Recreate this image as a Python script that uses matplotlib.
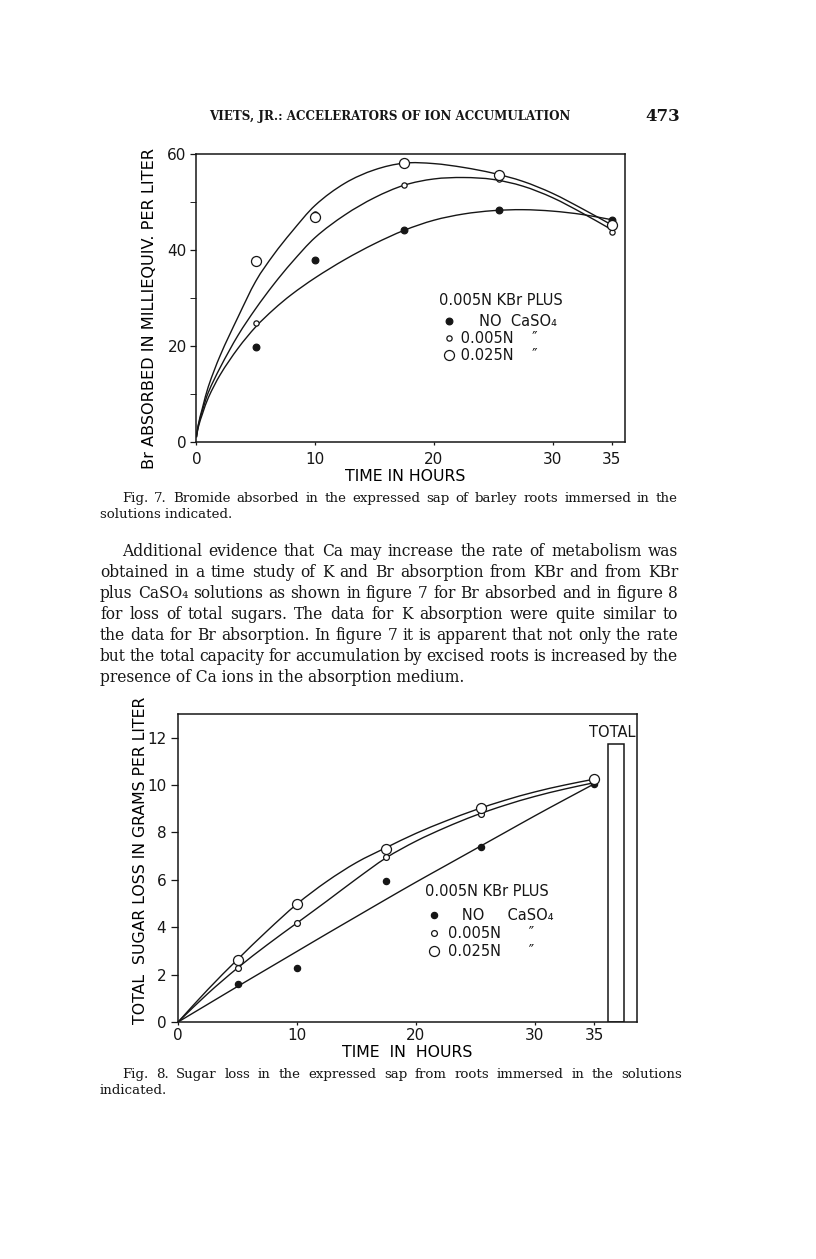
import matplotlib
matplotlib.use("Agg")
import matplotlib.pyplot as plt
from matplotlib.path import Path
from matplotlib.patches import PathPatch

W, H = 816, 1259

# ---- fig. 7: Br absorbed, milliequiv. per liter ----
hours = [5, 10, 17.5, 25.5, 35]
br_none = [19.7, 37.9, 44.2, 48.3, 46.3]
br_low = [24.7, 47.6, 53.6, 54.7, 43.8]
br_high = [37.7, 46.9, 58.2, 55.6, 45.2]

# hand drawn curves through the points
br_fit_t = [0, 0.15, 0.5, 1, 2, 3.5, 5, 6.5, 8, 10, 12.5, 15, 17.5, 20, 22.5, 25, 27.5, 30, 32.5, 35]
br_fit_none = [1, 3, 5.8, 9.2, 14, 19.5, 24.0, 27.6, 30.7, 34.2, 38.0, 41.3, 44.1, 46.2, 47.5, 48.2, 48.4, 48.1, 47.4, 46.3]
br_fit_low = [1, 3.3, 6.5, 10.3, 15.5, 22.2, 27.8, 32.8, 37.3, 42.6, 47.3, 50.9, 53.5, 54.8, 55.1, 54.7, 53.3, 50.9, 47.7, 44.2]
br_fit_high = [1, 3.5, 7, 11.5, 18, 26, 33.5, 39, 43.7, 49.3, 53.9, 56.7, 58.1, 58.0, 57.2, 56.0, 54.3, 51.8, 48.6, 45.2]

# ---- fig. 8: total sugar loss, grams per liter ----
sugar_none = [1.59, 2.27, 5.96, 7.4, 10.04]
sugar_low = [2.26, 4.16, 6.98, 8.8, 10.15]
sugar_high = [2.62, 4.98, 7.3, 9.02, 10.25]

sugar_fit_t = [0, 2.5, 5, 7.5, 10, 12.5, 15, 17.5, 20, 22.5, 25, 27.5, 30, 32.5, 35]
sugar_fit_none = [0, 0.75, 1.5, 2.24, 2.98, 3.72, 4.45, 5.18, 5.9, 6.6, 7.3, 8.0, 8.7, 9.38, 10.05]
sugar_fit_low = [0, 1.2, 2.28, 3.26, 4.18, 5.1, 6.04, 6.93, 7.63, 8.21, 8.72, 9.15, 9.52, 9.83, 10.1]
sugar_fit_high = [0, 1.37, 2.64, 3.85, 4.98, 5.93, 6.73, 7.36, 7.96, 8.48, 8.95, 9.36, 9.71, 10.0, 10.25]

total_label = ["TOTAL"]
total_sugar = [11.75]

x_ticks = [0, 10, 20, 30, 35]

header = "VIETS, JR.: ACCELERATORS OF ION ACCUMULATION"
page_no = "473"
cap7 = ["Fig. 7.  Bromide absorbed in the expressed sap of barley roots immersed in the",
        "solutions indicated."]
paragraph = [
    "Additional evidence that Ca may increase the rate of metabolism was",
    "obtained in a time study of K and Br absorption from KBr and from KBr",
    "plus CaSO\u2084 solutions as shown in figure 7 for Br absorbed and in figure 8",
    "for loss of total sugars.  The data for K absorption were quite similar to",
    "the data for Br absorption.  In figure 7 it is apparent that not only the rate",
    "but the total capacity for accumulation by excised roots is increased by the",
    "presence of Ca ions in the absorption medium.",
]
cap8 = ["Fig. 8.  Sugar loss in the expressed sap from roots immersed in the solutions",
        "indicated."]

ink = "#161616"
plt.rcParams["font.family"] = ["DejaVu Sans"]
plt.rcParams["text.color"] = ink

fig = plt.figure(figsize=(W / 100, H / 100), dpi=100)
fig.patch.set_facecolor("white")


def box(l, t, r, b):
    return [l / W, 1 - b / H, (r - l) / W, (b - t) / H]


def style(ax):
    for s in ax.spines.values():
        s.set_linewidth(1.1)
        s.set_color(ink)
    ax.tick_params(colors=ink, labelcolor=ink, direction="out", width=0.9)
    ax.set_facecolor("none")


def curve(ax, xs, ys):
    # draw the freehand curve as bezier segments through the read points
    n = len(xs)
    slopes = []
    for i in range(n):
        a, b = max(i - 1, 0), min(i + 1, n - 1)
        slopes.append((ys[b] - ys[a]) / (xs[b] - xs[a]))
    verts = [(xs[0], ys[0])]
    codes = [Path.MOVETO]
    for i in range(n - 1):
        h = (xs[i + 1] - xs[i]) / 3
        verts += [(xs[i] + h, ys[i] + slopes[i] * h),
                  (xs[i + 1] - h, ys[i + 1] - slopes[i + 1] * h),
                  (xs[i + 1], ys[i + 1])]
        codes += [Path.CURVE4] * 3
    ax.add_patch(PathPatch(Path(verts, codes), fill=False, edgecolor=ink, lw=1.0, zorder=2))


def series(ax, t, ys, fits, ft, sizes):
    kinds = [dict(marker="o", mfc=ink, mec=ink),
             dict(marker="o", mfc="white", mec=ink),
             dict(marker="o", mfc="white", mec=ink)]
    hs = []
    for y, f, k, ms in zip(ys, fits, kinds, sizes):
        curve(ax, ft, f)
        h, = ax.plot(t, y, ls="none", ms=ms, mew=0.9, zorder=3, **k)
        hs.append(h)
    return hs


# ---------------- fig. 7 ----------------
ax1 = fig.add_axes(box(196.4, 154, 625, 442))
style(ax1)
h1 = series(ax1, hours, [br_none, br_low, br_high],
            [br_fit_none, br_fit_low, br_fit_high], br_fit_t, [4.8, 3.8, 7.2])
ax1.set_xlim(0, 36.1)
ax1.set_ylim(0, 60)
ax1.set_xticks(x_ticks)
ax1.set_yticks([0, 20, 40, 60])
ax1.set_yticks([10, 30, 50], minor=True)
ax1.tick_params(axis="y", which="both", length=4, pad=3, labelsize=11)
ax1.tick_params(axis="x", length=2, pad=5, labelsize=11)
ax1.set_ylabel("Br ABSORBED IN MILLIEQUIV. PER LITER", fontsize=11.6)
ax1.yaxis.set_label_coords(-0.092, 0.462)
ax1.set_xlabel("TIME IN HOURS", fontsize=11.3)
ax1.xaxis.set_label_coords(0.487, -0.094)
ax1.text(0.566, 0.493, "0.005N KBr PLUS", transform=ax1.transAxes,
         fontsize=10.5, ha="left", va="center")
ax1.legend(h1, ["     NO  CaSO\u2084", " 0.005N    \u2033", " 0.025N    \u2033"],
           loc="upper left", bbox_to_anchor=(0.575, 0.443), frameon=False,
           fontsize=10.5, handlelength=0.8, handletextpad=0.1, labelspacing=0.12,
           borderpad=0, borderaxespad=0)

# ---------------- fig. 8 ----------------
ax2 = fig.add_axes(box(178.1, 714, 637, 1022))
style(ax2)
h2 = series(ax2, hours, [sugar_none, sugar_low, sugar_high],
            [sugar_fit_none, sugar_fit_low, sugar_fit_high], sugar_fit_t, [4.5, 4.2, 7.2])
ax2.bar([36.85], total_sugar, width=1.3, fill=False, edgecolor=ink, linewidth=1.1, zorder=2)
ax2.text(38.45, total_sugar[0] + 0.15, total_label[0], ha="right", va="bottom", fontsize=10.5)
ax2.set_xlim(0, 38.6)
ax2.set_ylim(0, 13)
ax2.set_xticks(x_ticks)
ax2.set_yticks(range(0, 13, 2))
ax2.tick_params(axis="y", length=5, pad=3.5, labelsize=11)
ax2.tick_params(axis="x", length=2, pad=2, labelsize=11)
ax2.set_ylabel("TOTAL  SUGAR LOSS IN GRAMS PER LITER", fontsize=11.3)
ax2.yaxis.set_label_coords(-0.066, 0.526)
ax2.set_xlabel("TIME  IN  HOURS", fontsize=11.3)
ax2.xaxis.set_label_coords(0.50, -0.075)
ax2.text(0.538, 0.423, "0.005N KBr PLUS", transform=ax2.transAxes,
         fontsize=10.5, ha="left", va="center")
ax2.legend(h2, ["   NO     CaSO\u2084", "0.005N      \u2033", "0.025N      \u2033"],
           loc="upper left", bbox_to_anchor=(0.544, 0.37), frameon=False,
           fontsize=10.5, handlelength=0.8, handletextpad=0.6, labelspacing=0.2,
           borderpad=0, borderaxespad=0)

# ---------------- page text ----------------
serif = dict(family="DejaVu Serif", color=ink)
rend = fig.canvas.get_renderer()


def line(text, x0, x1, base, size, justify=True):
    words = text.split()
    if not justify or len(words) < 2:
        fig.text(x0 / W, 1 - base / H, text, fontsize=size, va="baseline", **serif)
        return
    arts = [fig.text(0, 0, w, fontsize=size, va="baseline", **serif) for w in words]
    widths = [a.get_window_extent(rend).width for a in arts]
    gap = (x1 - x0 - sum(widths)) / (len(words) - 1)
    x = x0
    for a, w in zip(arts, widths):
        a.set_position((x / W, 1 - base / H))
        x += w + gap


fig.text(390 / W, 1 - 120 / H, header, fontsize=8.6, weight="bold", ha="center",
         va="baseline", **serif)
fig.text(680 / W, 1 - 121 / H, page_no, fontsize=12, weight="bold", ha="right",
         va="baseline", **serif)

left, right = 100, 678
line(cap7[0], 122, right, 502, 9.6)
line(cap7[1], left, right, 518, 9.6, justify=False)
for i, t in enumerate(paragraph):
    x0 = 122 if i == 0 else left
    line(t, x0, right, 556 + 21 * i, 11.2, justify=(i < len(paragraph) - 1))
line(cap8[0], 122, 682, 1078, 9.6)
line(cap8[1], left, right, 1094, 9.6, justify=False)

fig.savefig("out.png", dpi=100, facecolor="white")
